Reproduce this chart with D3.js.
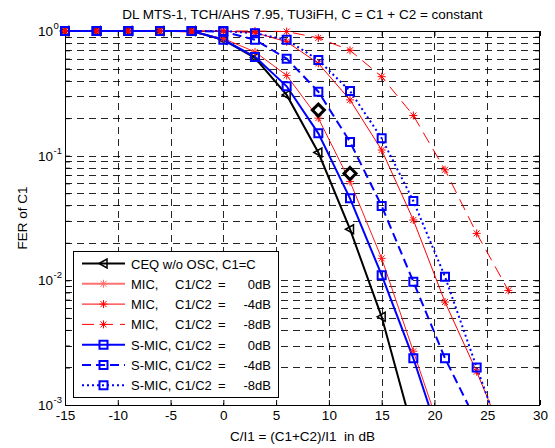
<!DOCTYPE html>
<html><head><meta charset="utf-8">
<script src="https://cdn.jsdelivr.net/npm/d3@7"></script>
<style>
body{margin:0;background:#fff}
text{font-family:"Liberation Sans",Arial,Helvetica,sans-serif;fill:#000;white-space:pre}
</style>
</head><body>
<svg id="c" width="555" height="448"></svg>
<script>
// ---------- data ----------
const xValues   = [-15,-12,-9,-6,-3,0,3,6,9,12,15,18,21,24,27];
const ceqValues = [1,1,1,1,1,0.85,0.61,0.307,0.106,0.0257,0.0051,0.0006];
const mic0      = [1,1,1,1,0.98,0.87,0.68,0.44,0.2,0.062,0.015,0.0027,0.00048];
const micM4     = [1,1,1,1,1,1,0.97,0.82,0.55,0.28,0.111,0.0305,0.0067,0.00185,0.00045];
const micM8     = [1,1,1,1,1,1,1,0.99,0.88,0.70,0.43,0.21,0.077,0.0238,0.0083];
const smic0     = [1,1,1,1,1,0.85,0.62,0.36,0.151,0.0455,0.011,0.00237,0.0004];
const smicM4    = [1,1,1,1,1,0.99,0.85,0.6,0.326,0.129,0.0395,0.00975,0.00237,0.00073];
const smicM8    = [1,1,1,1,1,1,0.96,0.85,0.585,0.33,0.138,0.0433,0.0107,0.002,0.0004];
const refX      = [9,12];
const refValues = [0.232,0.072];
const xTickValues = [-15,-10,-5,0,5,10,15,20,25,30];
const yTickExponents = [0,-1,-2,-3];
const legendNames = ["CEQ w/o OSC, C1=C","MIC,","MIC,","MIC,","S-MIC,","S-MIC,","S-MIC,"];
const legendRatios = ["","0dB","-4dB","-8dB","0dB","-4dB","-8dB"];
const titleText = "DL MTS-1, TCH/AHS 7.95, TU3iFH, C = C1 + C2 = constant";
const xLabelText = "C/I1 = (C1+C2)/I1  in dB";
const yLabelText = "FER of C1";

// ---------- styles ----------
const series = [
  {vals:ceqValues, color:"#000", w:2,   dash:null,  marker:"tri",  legColor:"#000", legW:2},
  {vals:mic0,      color:"#ff1a1a", w:1, dash:null, marker:"star", legColor:"#ff7070", legW:2},
  {vals:micM4,     color:"#ff0000", w:1, dash:null, marker:"star", legColor:"#ff0000", legW:1},
  {vals:micM8,     color:"#ff0000", w:1, dash:"12,7", marker:"star", legColor:"#ff0000", legW:1},
  {vals:smic0,     color:"#0000ff", w:2, dash:null, marker:"sq", legColor:"#0000ff", legW:2},
  {vals:smicM4,    color:"#0000ff", w:2, dash:"9,5", marker:"sq", legColor:"#0000ff", legW:2},
  {vals:smicM8,    color:"#0000ff", w:2, dash:"2,3", marker:"sq", legColor:"#0000ff", legW:2}
];

const L=65, R=540, T=31, B=405;
const svg = d3.select("#c");
const x = d3.scaleLinear().domain([-15,30]).range([L,R]);
const y = d3.scaleLog().domain([1e-3,1]).range([B,T]);

// ---------- grid ----------
const g = svg.append("g");
const yAll = y.ticks();
g.selectAll(".hg").data(yAll.filter(v=>v>1e-3*1.0001 && v<0.9999)).enter().append("line")
  .attr("x1",L).attr("x2",R)
  .attr("y1",d=>Math.round(y(d))+0.5).attr("y2",d=>Math.round(y(d))+0.5)
  .attr("stroke","#000").attr("stroke-width",1).attr("stroke-dasharray","7,5").attr("opacity",0.85);
g.selectAll(".vg").data(xTickValues.slice(1,-1)).enter().append("line")
  .attr("y1",T).attr("y2",B)
  .attr("x1",d=>Math.round(x(d))+0.5).attr("x2",d=>Math.round(x(d))+0.5)
  .attr("stroke","#000").attr("stroke-width",1).attr("stroke-dasharray","7,5").attr("opacity",0.85);

// ---------- axes ----------
const ax = svg.append("g").attr("transform",`translate(0,${B})`)
  .call(d3.axisBottom(x).tickValues(xTickValues).tickSize(-5).tickPadding(5).tickFormat(d=>d));
const axT = svg.append("g").attr("transform",`translate(0,${T})`)
  .call(d3.axisTop(x).tickValues(xTickValues).tickSize(-5).tickFormat(""));
const ayL = svg.append("g").attr("transform",`translate(${L},0)`)
  .call(d3.axisLeft(y).tickValues(yAll).tickSize(-5).tickFormat(""));
const ayR = svg.append("g").attr("transform",`translate(${R},0)`)
  .call(d3.axisRight(y).tickValues(yAll).tickSize(-5).tickFormat(""));
[ax,axT,ayL,ayR].forEach(a=>{
  a.select(".domain").remove();
  a.selectAll("line").attr("stroke","#000");
  a.selectAll("text").attr("font-size","13.5px").attr("font-family",null);
});
svg.append("rect").attr("x",L+0.5).attr("y",T+0.5).attr("width",R-L-1).attr("height",B-T)
  .attr("fill","none").attr("stroke","#000").attr("stroke-width",1);

// y tick labels with superscripts
const yl = svg.append("g");
yTickExponents.forEach(e=>{
  const yy = y(Math.pow(10,e));
  yl.append("text").attr("x",53).attr("y",yy+5).attr("text-anchor","end").attr("font-size","13.5px").text("10");
  yl.append("text").attr("x",53.5).attr("y",yy-2).attr("font-size","9.5px").text(e);
});

// ---------- lines ----------
const clip = svg.append("defs").append("clipPath").attr("id","cp");
clip.append("rect").attr("x",0).attr("y",0).attr("width",555).attr("height",B);
const line = d3.line().x((d,i)=>x(xValues[i])).y(d=>y(d));

function markerPath(type){
  if(type==="sq") return "M-4,-4H4V4H-4Z";
  if(type==="tri") return "M-4.5,0L3.5,-4.5L3.5,4.5Z";
  if(type==="star") return "M-4,0H4M0,-4V4M-3,-3L3,3M-3,3L3,-3";
  if(type==="dia") return "M0,-6L6,0L0,6L-6,0Z";
}
function drawMarker(sel,type,color){
  sel.attr("d",markerPath(type)).attr("fill","none").attr("stroke",color)
    .attr("stroke-width", type==="sq"?2:(type==="tri"?1.5:(type==="dia"?3:1)));
}

const lg = svg.append("g").attr("clip-path","url(#cp)");
series.forEach(s=>{
  lg.append("path").datum(s.vals).attr("d",line).attr("fill","none")
    .attr("stroke",s.color).attr("stroke-width",s.w)
    .attr("stroke-dasharray",s.dash);
});
const mg = svg.append("g");
series.forEach(s=>{
  mg.selectAll(null).data(s.vals.map((v,i)=>({x:xValues[i],v})).filter(d=>d.v>=1e-3))
    .enter().append("path")
    .attr("transform",d=>`translate(${x(d.x)},${y(d.v)})`)
    .call(sel=>drawMarker(sel,s.marker,s.color));
});
mg.selectAll(null).data(refValues.map((v,i)=>({x:refX[i],v}))).enter().append("path")
  .attr("transform",d=>`translate(${x(d.x)},${y(d.v)})`)
  .call(sel=>drawMarker(sel,"dia","#000"));

// ---------- legend ----------
const leg = svg.append("g");
leg.append("rect").attr("x",73.5).attr("y",251.5).attr("width",205).attr("height",146)
  .attr("fill","#fff").attr("stroke","#000").attr("stroke-width",1);
series.forEach((s,i)=>{
  const cy = 263.5 + i*20.3;
  leg.append("line").attr("x1",82).attr("x2",125).attr("y1",cy).attr("y2",cy)
    .attr("stroke",s.legColor).attr("stroke-width",s.legW).attr("stroke-dasharray",s.dash);
  leg.append("path").attr("transform",`translate(103.5,${cy})`)
    .call(sel=>drawMarker(sel,s.marker,s.legColor));
  const ty = cy+5;
  const fs = "13px";
  leg.append("text").attr("x",131).attr("y",ty).attr("font-size",fs).text(legendNames[i]);
  if(i>0){
    leg.append("text").attr("x",175).attr("y",ty).attr("font-size",fs).text("C1/C2");
    leg.append("text").attr("x",218).attr("y",ty).attr("font-size",fs).text("=");
    leg.append("text").attr("x",271).attr("y",ty).attr("text-anchor","end").attr("font-size",fs).text(legendRatios[i]);
  }
});

// ---------- titles ----------
svg.append("text").attr("x",(L+R)/2).attr("y",18.5).attr("text-anchor","middle").attr("font-size","13.5px").text(titleText);
svg.append("text").attr("x",(L+R)/2).attr("y",441).attr("text-anchor","middle").attr("font-size","13.5px").attr("xml:space","preserve").text(xLabelText);
svg.append("text").attr("transform",`translate(27,${(T+B)/2}) rotate(-90)`).attr("text-anchor","middle").attr("font-size","13.5px").text(yLabelText);
</script>
</body></html>
